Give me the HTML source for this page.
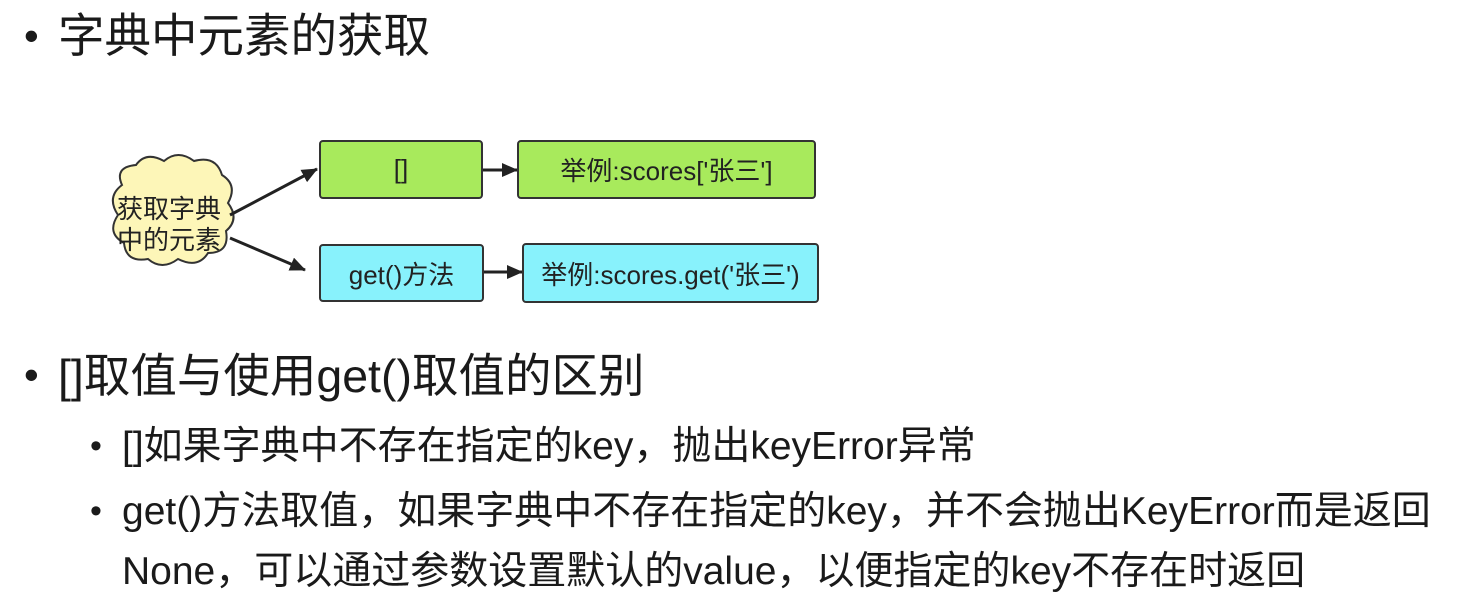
<!DOCTYPE html>
<html><head><meta charset="utf-8"><style>
body{margin:0;width:1474px;height:601px;background:#fff;overflow:hidden;position:relative;font-family:"Liberation Sans","Noto Sans CJK SC",sans-serif;color:#1a1a1a}
.t{position:absolute;white-space:nowrap;line-height:1.15}
.b{position:absolute;border:2px solid #333;border-radius:4px;display:flex;align-items:center;justify-content:center;font-size:26px;box-sizing:border-box;color:#222}
.g{background:#a8ea5c}.c{background:#88f2fc}
</style></head><body>
<div class="t" style="left:24px;top:12px;font-size:42px">•</div>
<div class="t" style="left:58px;top:10px;font-size:46.5px">字典中元素的获取</div>

<svg width="1474" height="601" style="position:absolute;left:0;top:0">
<defs><marker id="a" markerWidth="16" markerHeight="14" refX="15" refY="7" orient="auto" markerUnits="userSpaceOnUse"><path d="M0,0 L16,7 L0,14z" fill="#222"/></marker></defs>
<path d="M122,185 q-8,-18 14,-20 q10,-14 28,-4 q14,-12 30,0 q22,-6 28,14 q16,10 6,28 q12,16 -2,28 q4,22 -18,22 q-10,16 -30,6 q-16,12 -30,0 q-22,4 -24,-16 q-18,-10 -6,-28 q-12,-18 4,-30z" fill="#fdf6b8" stroke="#333" stroke-width="2"/>
<line x1="230" y1="215" x2="317" y2="169" stroke="#222" stroke-width="3" marker-end="url(#a)"/>
<line x1="230" y1="238" x2="305" y2="270" stroke="#222" stroke-width="3" marker-end="url(#a)"/>
<line x1="483" y1="170" x2="517" y2="170" stroke="#222" stroke-width="3" marker-end="url(#a)"/>
<line x1="484" y1="272" x2="522" y2="272" stroke="#222" stroke-width="3" marker-end="url(#a)"/>
</svg>
<div class="t" style="left:117px;top:194px;font-size:26px;line-height:31px;color:#222">获取字典<br>中的元素</div>
<div class="b g" style="left:319px;top:140px;width:164px;height:59px">[]</div>
<div class="b g" style="left:517px;top:140px;width:299px;height:59px">举例:scores['张三']</div>
<div class="b c" style="left:319px;top:244px;width:165px;height:58px">get()方法</div>
<div class="b c" style="left:522px;top:243px;width:297px;height:60px">举例:scores.get('张三')</div>

<div class="t" style="left:24px;top:351px;font-size:42px">•</div>
<div class="t" style="left:58px;top:350px;font-size:46.5px">[]取值与使用get()取值的区别</div>
<div class="t" style="left:90px;top:427px;font-size:34px">•</div>
<div class="t" style="left:122px;top:425px;font-size:39px">[]如果字典中不存在指定的key，抛出keyError异常</div>
<div class="t" style="left:90px;top:492px;font-size:34px">•</div>
<div class="t" style="left:122px;top:490px;font-size:39px">get()方法取值，如果字典中不存在指定的key，并不会抛出KeyError而是返回</div>
<div class="t" style="left:122px;top:550px;font-size:39px">None，可以通过参数设置默认的value，以便指定的key不存在时返回</div>
</body></html>
